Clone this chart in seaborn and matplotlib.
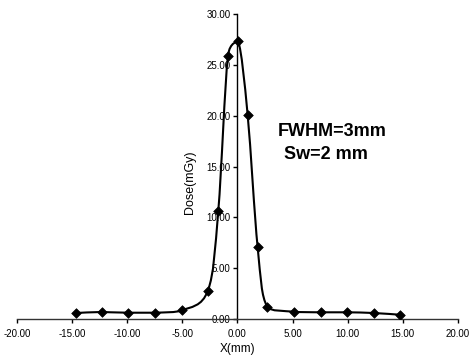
import numpy as np
import matplotlib
matplotlib.use("Agg")
import matplotlib.pyplot as plt
import seaborn as sns
from matplotlib.path import Path
from matplotlib.patches import PathPatch
from matplotlib.ticker import FormatStrFormatter, MultipleLocator

# dose profile
x_mm = [-14.65, -12.3, -9.9, -7.5, -5.04, -2.68, -1.74, -0.86, 0.07,
        0.92, 1.83, 2.7, 5.13, 7.55, 9.97, 12.36, 14.75]
dose = [0.59, 0.69, 0.62, 0.62, 0.85, 2.8, 10.65, 25.9, 27.3,
        20.1, 7.05, 1.21, 0.72, 0.66, 0.66, 0.59, 0.42]
note_lines = ["FWHM=3mm", "Sw=2 mm"]

sns.set_style("white")
plt.rcParams['font.family'] = ['Liberation Sans', 'DejaVu Sans']
plt.rcParams['text.color'] = 'black'
plt.rcParams['axes.labelcolor'] = 'black'

fig = plt.figure(figsize=(4.69, 3.56), dpi=100)
ax = fig.add_axes([0.0362, 0.1039, 0.9403, 0.8568])


def smooth_path(xs, ys):
    # Excel-like smoothed line: Catmull-Rom tangents, shortened where they
    # would push the curve past the segment's end values
    p = np.column_stack([xs, ys]).astype(float)
    ext = np.vstack([p[0], p, p[-1]])
    verts = [p[0]]
    codes = [Path.MOVETO]
    for i in range(len(p) - 1):
        a, b = p[i], p[i + 1]
        lo, hi = min(a[1], b[1]), max(a[1], b[1])
        d1 = (ext[i + 2] - ext[i]) / 6.0
        d2 = (ext[i + 3] - ext[i + 1]) / 6.0
        c1 = a + d1
        c2 = b - d2
        for c, base, d in ((c1, a, d1), (c2, b, -d2)):
            if abs(d[1]) > 0 and (c[1] > hi or c[1] < lo):
                lim = hi if c[1] > hi else lo
                s = (lim - base[1]) / d[1]
                c[:] = base + d * s
        verts += [c1, c2, b]
        codes += [Path.CURVE4] * 3
    return Path(verts, codes)


ax.add_patch(PathPatch(smooth_path(x_mm, dose), fill=False,
                       edgecolor='black', linewidth=1.5, zorder=2))
sns.scatterplot(x=x_mm, y=dose, marker='D', color='black', s=24,
                edgecolor='black', linewidth=0.5, zorder=3, ax=ax)

ax.set_xlim(-20, 20)
ax.set_ylim(0, 30)
ax.xaxis.set_major_locator(MultipleLocator(5))
ax.yaxis.set_major_locator(MultipleLocator(5))
ax.xaxis.set_major_formatter(FormatStrFormatter('%.2f'))
ax.yaxis.set_major_formatter(FormatStrFormatter('%.2f'))

ax.spines['left'].set_position(('data', 0))
ax.spines['right'].set_visible(False)
ax.spines['top'].set_visible(False)
ax.spines['left'].set_color('black')
ax.spines['bottom'].set_color('#333333')
ax.spines['left'].set_linewidth(1.0)
ax.spines['bottom'].set_linewidth(1.0)

ax.tick_params(axis='both', direction='out', length=3, width=1,
               labelsize=7, colors='black', pad=2)
ax.tick_params(axis='x', pad=4)
ax.yaxis.set_ticks_position('left')
ax.xaxis.set_ticks_position('bottom')

ax.set_xlabel("X(mm)", fontsize=8.5, labelpad=3)
ax.set_ylabel("Dose(mGy)", fontsize=9)
ax.yaxis.set_label_coords(0.405, 0.45)

ax.text(8.55, 18.4, note_lines[0], fontsize=13, fontweight='bold',
        ha='center', va='center')
ax.text(8.0, 16.2, note_lines[1], fontsize=13, fontweight='bold',
        ha='center', va='center')

plt.savefig("out.png", dpi=100)
